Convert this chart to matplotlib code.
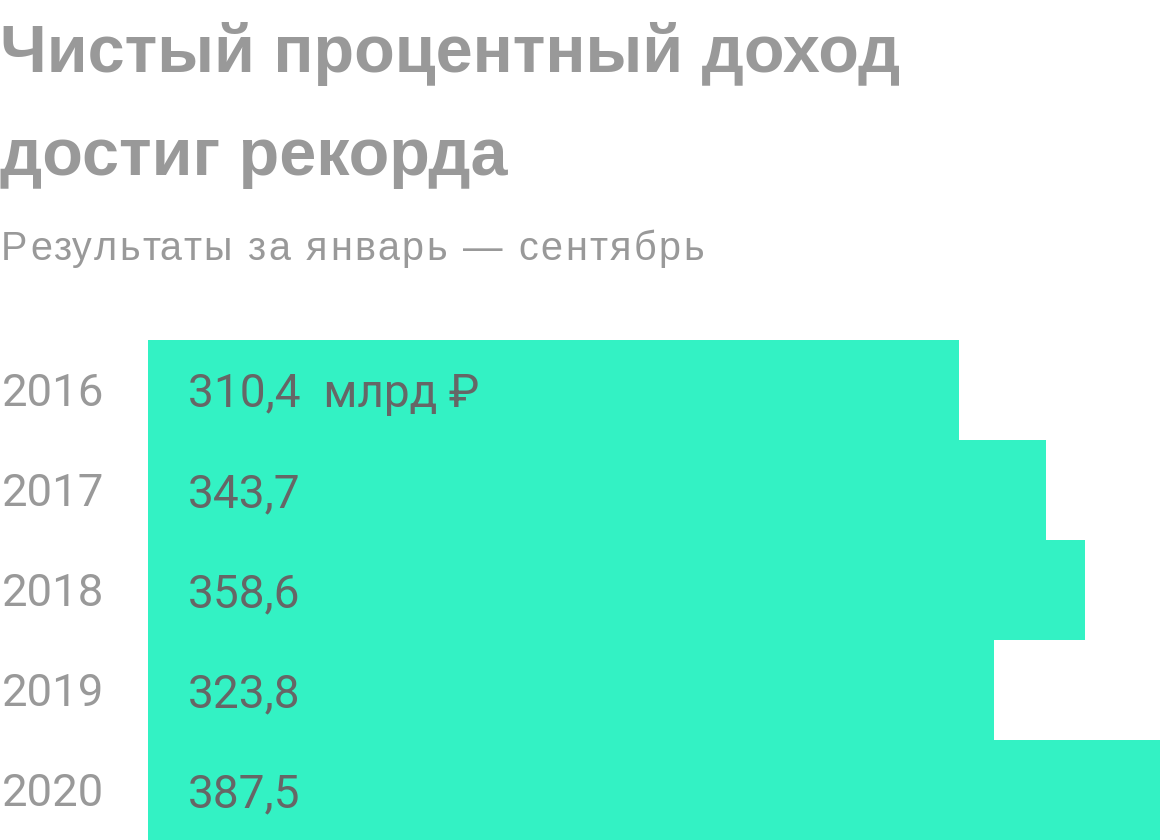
import matplotlib
matplotlib.use("Agg")
import matplotlib.pyplot as plt
import matplotlib.transforms as mtransforms

years = ["2016", "2017", "2018", "2019", "2020"]
values = [310.4, 343.7, 358.6, 323.8, 387.5]
value_labels = ["310,4  млрд ₽", "343,7", "358,6", "323,8", "387,5"]
title_lines = ["Чистый процентный доход", "достиг рекорда"]
subtitle = "Результаты за январь — сентябрь"

W, H = 1160, 840
DPI = 100
fam = ["Roboto", "DejaVu Sans"]
fam_t = ["Liberation Sans", "DejaVu Sans"]
px = 72 / DPI

fig = plt.figure(figsize=(W / DPI, H / DPI), dpi=DPI)
fig.patch.set_facecolor("white")
renderer = fig.canvas.get_renderer()


def spaced_text(x_px, y_px_from_top, s, spacing_px, **kw):
    """Draw text with extra letter spacing (pixels)."""
    def width(t):
        tt = fig.text(0, 0, t, **kw)
        w = tt.get_window_extent(renderer).width
        tt.remove()
        return w
    bar_w = width("|")
    for i, ch in enumerate(s):
        if ch == " ":
            continue
        adv = width(s[:i] + "|") - bar_w if i > 0 else 0.0
        fig.text((x_px + adv + i * spacing_px) / W, 1 - y_px_from_top / H, ch,
                 ha="left", va="baseline", **kw)


ax = fig.add_axes([148 / W, 0, (W - 148) / W, 500 / H])
ax.barh(range(len(values)), values, height=1.0, color="#33F2C4", edgecolor="none")
ax.set_xlim(0, max(values))
ax.set_ylim(len(values) - 0.5, -0.5)
ax.axis("off")

lab_tr = mtransforms.blended_transform_factory(fig.transFigure, ax.transData)
val_tr = mtransforms.offset_copy(ax.transData, fig=fig, x=40, y=0, units="dots")
for i, (y, lab) in enumerate(zip(years, value_labels)):
    ax.text(2 / W, i, y, transform=lab_tr, ha="left", va="center_baseline",
            fontsize=45.5 * px, color="#999999", family=fam)
    ax.text(0, i, lab, transform=val_tr, ha="left", va="center_baseline",
            fontsize=46 * px, color="#666666", family=fam)

fig.text(0 / W, 1 - 72 / H, title_lines[0], ha="left", va="baseline",
         fontsize=66.5 * px, fontweight="bold", color="#999999", family=fam_t)
fig.text(0 / W, 1 - 175 / H, title_lines[1], ha="left", va="baseline",
         fontsize=66.5 * px, fontweight="bold", color="#999999", family=fam_t)
spaced_text(1, 260, subtitle, 2.5, fontsize=39.5 * px, color="#999999", family=fam_t)

fig.savefig("out.png", dpi=DPI, facecolor="white")
